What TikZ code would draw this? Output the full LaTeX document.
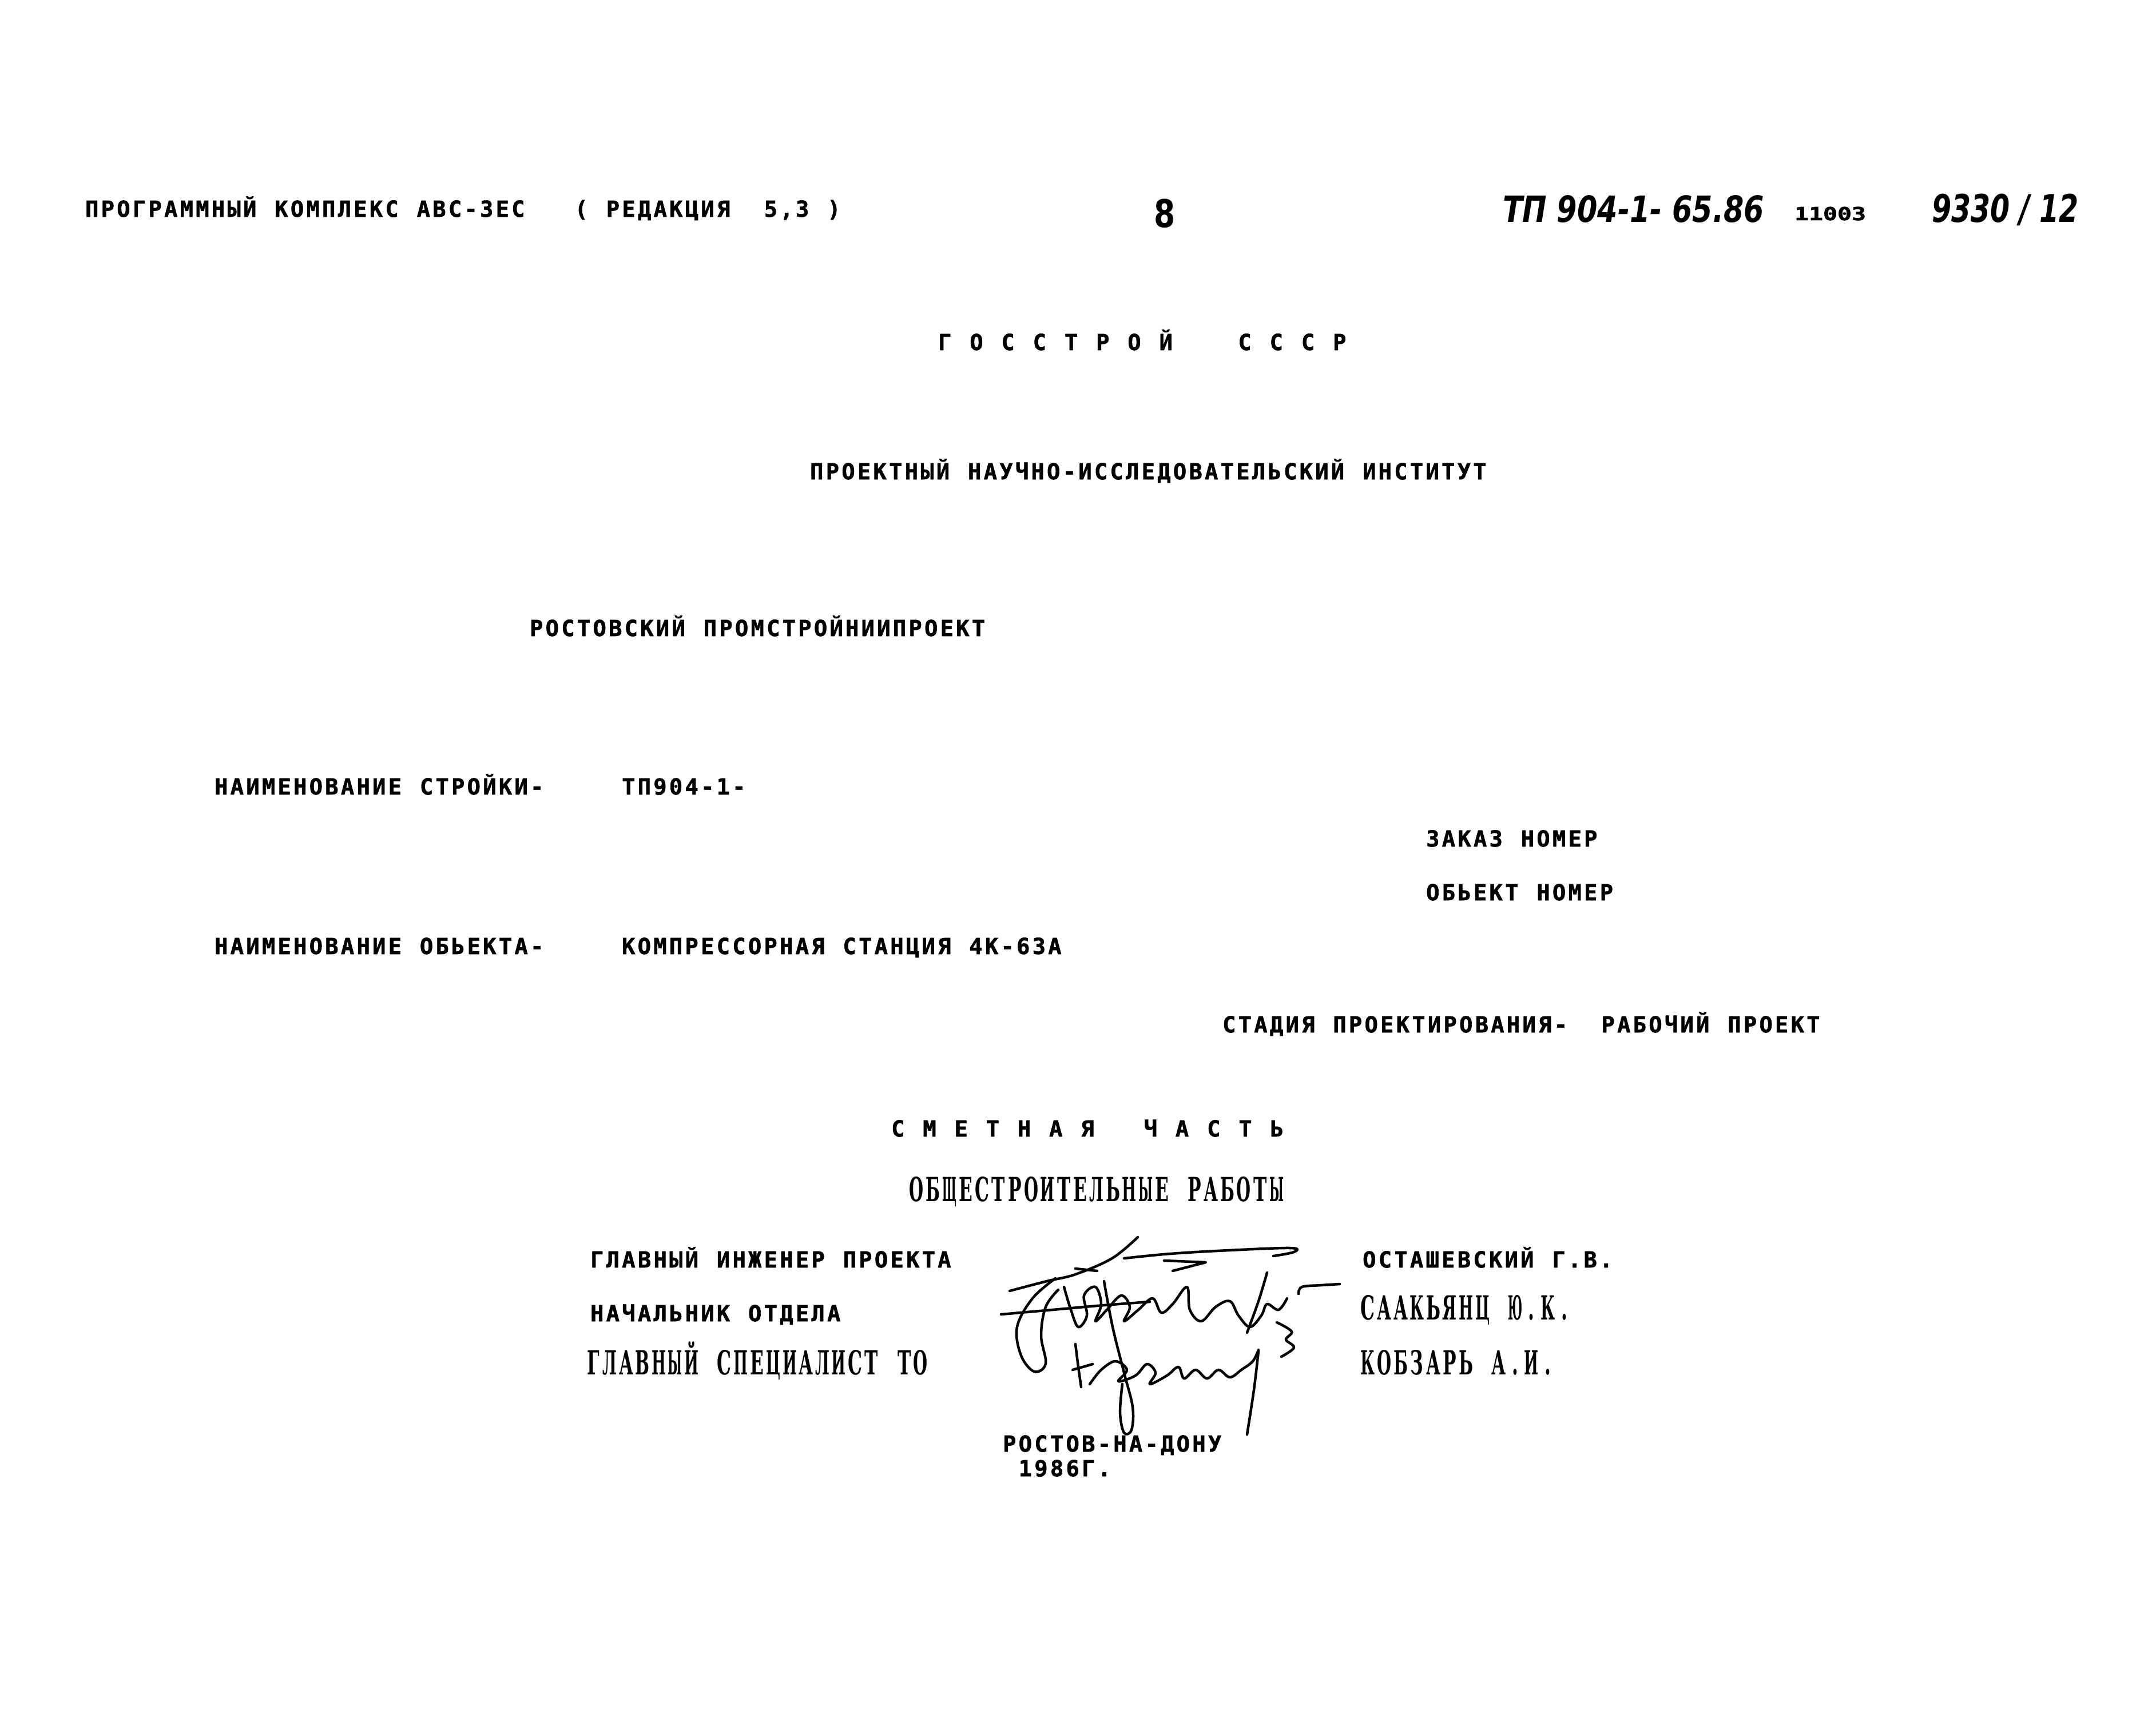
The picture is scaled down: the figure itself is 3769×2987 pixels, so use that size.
\documentclass[tikz,border=0pt]{standalone}
\usepackage{fontspec}
\usepackage{graphicx}
\newfontfamily\prtf{DejaVu Sans Mono}[BoldFeatures={FakeBold=1.5}]
\newfontfamily\twf{DejaVu Serif}
\newfontfamily\hwf{DejaVu Sans}
\newlength\pch
\setlength\pch{2.76mm}
\newsavebox\twbox
\def\gfmt#1{#1}
\def\grid#1{\gridi#1\relax}
\def\gridi#1{\ifx#1\relax\else\makebox[\pch][c]{\gfmt{#1}}\expandafter\gridi\fi}
\newcommand\twglyph[1]{\sbox\twbox{#1}\ifdim\wd\twbox>4.6mm\resizebox{2.5mm}{\height}{#1}\else\scalebox{0.54}[1]{#1}\fi}
\newcommand\twgrid[1]{{\setlength\pch{2.86mm}\let\gfmt\twglyph\grid{#1}}}
\begin{document}
\begin{tikzpicture}[x=0.1mm,y=-0.1mm,
  prt/.style={inner sep=0pt,outer sep=0pt,anchor=base west,font=\prtf\bfseries\fontsize{11}{13}\selectfont},
  tw/.style={inner sep=0pt,outer sep=0pt,anchor=base west,font=\twf\bfseries\fontsize{16.5}{20}\selectfont},
  hw/.style={inner sep=0pt,outer sep=0pt,anchor=base west},
  sig/.style={line width=0.45mm,line cap=round,line join=round}]
\useasboundingbox[fill=white] (0,0) rectangle (3769,2987);

% header
\node[prt] (hdr) at (147,379) {\grid{ПРОГРАММНЫЙ~КОМПЛЕКС~АВС-3ЕС~~~(~РЕДАКЦИЯ~~5,3~)}};
\node[inner sep=0pt,anchor=base] (pg) at (2036,397) {\hwf\bfseries\fontsize{19}{20}\selectfont\scalebox{0.8}[1]{8}};
\node[hw] (tp) at (2627,388) {\resizebox{45.7mm}{\height}{\hwf\bfseries\itshape\fontsize{18}{20}\selectfont ТП 904-1- 65.86}};
\node[hw] (num) at (3137,385) {\resizebox{12.5mm}{\height}{\prtf\bfseries\fontsize{9}{10}\selectfont 11003}};
\node[hw] (inv) at (3377,388) {\resizebox{25.7mm}{\height}{\hwf\bfseries\itshape\fontsize{19}{20}\selectfont 9330 / 12}};

% title block
\node[prt] (gos) at (1638,612) {\grid{Г~О~С~С~Т~Р~О~Й~~~~С~С~С~Р}};
\node[prt] (inst) at (1414,838) {\grid{ПРОЕКТНЫЙ~НАУЧНО-ИССЛЕДОВАТЕЛЬСКИЙ~ИНСТИТУТ}};
\node[prt] (rost) at (924,1112) {\grid{РОСТОВСКИЙ~ПРОМСТРОЙНИИПРОЕКТ}};

\node[prt] (nstr) at (373,1389) {\grid{НАИМЕНОВАНИЕ~СТРОЙКИ-}};
\node[prt] (tpn) at (1085,1389) {\grid{ТП904-1-}};
\node[prt] (zak) at (2491,1480) {\grid{ЗАКАЗ~НОМЕР}};
\node[prt] (obn) at (2491,1574) {\grid{ОБЬЕКТ~НОМЕР}};
\node[prt] (nobj) at (373,1668) {\grid{НАИМЕНОВАНИЕ~ОБЬЕКТА-}};
\node[prt] (komp) at (1085,1668) {\grid{КОМПРЕССОРНАЯ~СТАНЦИЯ~4К-63А}};
\node[prt] (stad) at (2135,1805) {\grid{СТАДИЯ~ПРОЕКТИРОВАНИЯ-~~РАБОЧИЙ~ПРОЕКТ}};
\node[prt] (smet) at (1556,1987) {\grid{С~М~Е~Т~Н~А~Я~~~Ч~А~С~Т~Ь}};
\node[tw] (obsh) at (1588,2100) {\twgrid{ОБЩЕСТРОИТЕЛЬНЫЕ~РАБОТЫ}};

% signatures block
\node[prt] (gip) at (1030,2216) {\grid{ГЛАВНЫЙ~ИНЖЕНЕР~ПРОЕКТА}};
\node[prt] (nach) at (1030,2310) {\grid{НАЧАЛЬНИК~ОТДЕЛА}};
\node[tw] (gsp) at (1023,2403) {\twgrid{ГЛАВНЫЙ~СПЕЦИАЛИСТ~ТО}};
\node[prt] (ost) at (2380,2216) {\grid{ОСТАШЕВСКИЙ~Г.В.}};
\node[tw] (saak) at (2377,2307) {\twgrid{СААКЬЯНЦ~Ю.К.}};
\node[tw] (kob) at (2377,2403) {\twgrid{КОБЗАРЬ~А.И.}};
\node[prt] (city) at (1751,2538) {\grid{РОСТОВ-НА-ДОНУ}};
\node[prt] (year) at (1751,2581) {\grid{~1986Г.}};

% handwritten signatures
\draw[sig] plot[smooth,tension=0.6] coordinates {(1765,2257) (1830,2240) (1880,2228) (1944,2200) (1989,2163)};
\draw[sig] (1880,2218) -- (1918,2222);
\draw[sig] plot[smooth,tension=0.6] coordinates {(1965,2200) (2046,2192) (2148,2186) (2256,2182) (2262,2189) (2226,2196)};
\draw[sig] (2035,2204) -- (2108,2207) -- (2050,2222);
\draw[sig] plot[smooth,tension=0.6] coordinates {(1750,2298) (1840,2290) (1930,2282) (2010,2276)};
\draw[sig] plot[smooth,tension=0.6] coordinates {(2270,2262) (2276,2250) (2310,2247) (2342,2245)};
\draw[sig] plot[smooth,tension=0.6] coordinates {(1845,2235) (1805,2270) (1778,2320) (1785,2370) (1808,2398) (1828,2384) (1820,2335) (1828,2285) (1850,2255)};
\draw[sig] plot[smooth,tension=0.6] coordinates {(1860,2250) (1872,2290) (1885,2320) (1900,2300) (1895,2265) (1915,2250) (1925,2280) (1915,2310) (1935,2290) (1960,2265) (1975,2285) (1965,2310) (1990,2290) (2015,2270) (2030,2295) (2050,2280) (2075,2250) (2080,2290) (2100,2310) (2125,2285) (2150,2275) (2165,2300) (2185,2320) (2205,2300) (2215,2280) (2235,2290) (2250,2270)};
\draw[sig] plot[smooth,tension=0.6] coordinates {(2215,2225) (2200,2275) (2180,2330)};
\draw[sig] plot[smooth,tension=0.6] coordinates {(2232,2312) (2258,2328) (2248,2342) (2262,2356) (2240,2372)};
\draw[sig] plot[smooth,tension=0.6] coordinates {(1930,2240) (1945,2320) (1965,2400) (1980,2460) (1978,2500) (1965,2505) (1958,2470) (1962,2420)};
\draw[sig] plot[smooth,tension=0.6] coordinates {(1880,2350) (1885,2390) (1890,2425)};
\draw[sig] (1875,2395) -- (1910,2385);
\draw[sig] plot[smooth,tension=0.6] coordinates {(1905,2420) (1925,2395) (1950,2380) (1970,2395) (1955,2415) (1985,2405) (2005,2385) (2020,2400) (2010,2420) (2040,2405) (2060,2390) (2070,2410) (2090,2395) (2110,2410) (2130,2395) (2150,2408) (2170,2395) (2190,2380) (2200,2360)};
\draw[sig] plot[smooth,tension=0.6] coordinates {(2200,2362) (2192,2430) (2180,2508)};
\end{tikzpicture}
\end{document}
